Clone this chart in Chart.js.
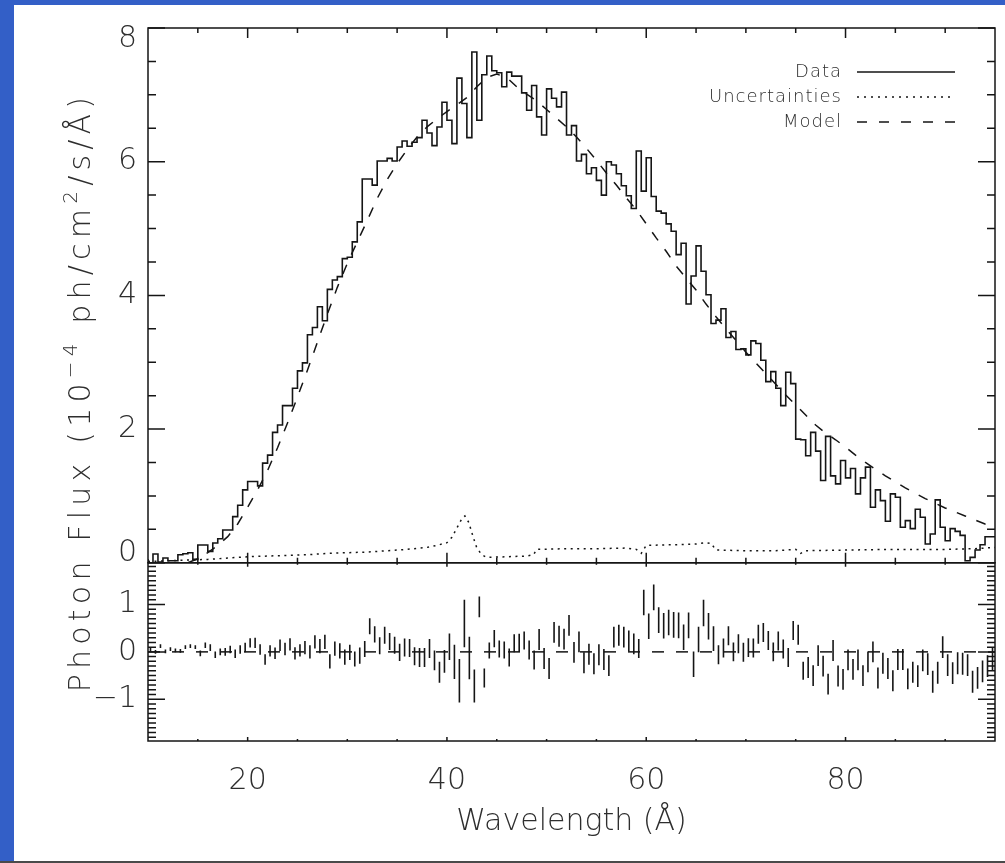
<!DOCTYPE html>
<html>
<head>
<meta charset="utf-8">
<title>Photon flux spectrum</title>
<script src="https://cdn.jsdelivr.net/npm/chart.js@4.4.1/dist/chart.umd.min.js"></script>
<style>
  html, body { margin: 0; padding: 0; background: #fff; }
  body { width: 1005px; height: 863px; position: relative; overflow: hidden; }
  .edge-left { position: absolute; left: 0; top: 0; width: 14px; height: 863px; background: #335fc7; }
  .edge-top { position: absolute; left: 0; top: 0; width: 1005px; height: 5px; background: #335fc7; }
  .edge-bottom { position: absolute; left: 0; top: 861px; width: 1005px; height: 2px; background: #4a4a4a; }
  #wrap { position: absolute; left: 0; top: 0; width: 1005px; height: 863px; }
</style>
</head>
<body>
<div class="edge-left"></div>
<div class="edge-top"></div>
<div class="edge-bottom"></div>
<div id="wrap"><canvas id="spec" width="1005" height="863"></canvas></div>
<script>
// histogram bins: 0.5 A wide, starting at 10 A
const binStart = 10;
const binWidth = 0.5;

// measured flux per bin (10^-4 ph/cm2/s/A), 10 bins per row = 5 A
const flux = [
  0.055, 0.00, 0.13, 0.01, 0.07, 0.03, 0.03, 0.12, 0.135, 0.15,
  0.05, 0.265, 0.265, 0.17, 0.295, 0.36, 0.49, 0.49, 0.69, 0.86,
  1.09, 1.215, 1.215, 1.15, 1.49, 1.61, 1.95, 2.06, 2.35, 2.35,
  2.61, 2.87, 2.99, 3.41, 3.52, 3.83, 3.62, 4.09, 4.23, 4.28,
  4.55, 4.57, 4.80, 5.10, 5.74, 5.74, 5.65, 6.01, 6.01, 6.05,
  6.01, 6.22, 6.31, 6.23, 6.29, 6.36, 6.62, 6.43, 6.24, 6.52,
  6.89, 6.62, 6.27, 7.25, 6.87, 6.36, 7.64, 6.62, 7.30, 7.58,
  7.36, 7.33, 7.12, 7.34, 7.28, 7.28, 7.03, 6.77, 7.14, 6.67,
  6.40, 7.09, 6.95, 6.82, 7.04, 6.40, 6.54, 6.01, 6.11, 5.82,
  5.91, 5.72, 5.50, 6.00, 5.95, 5.82, 5.64, 5.49, 5.30, 6.16,
  5.56, 6.06, 5.48, 5.26, 5.23, 5.07, 4.96, 4.61, 4.78, 3.87,
  4.29, 4.74, 4.36, 4.01, 3.58, 3.63, 3.80, 3.37, 3.46, 3.19,
  3.20, 3.11, 3.32, 3.28, 3.03, 2.71, 2.86, 2.61, 2.35, 2.85,
  2.68, 1.85, 1.84, 1.60, 1.95, 1.67, 1.23, 1.89, 1.30, 1.18,
  1.53, 1.27, 1.41, 1.03, 1.27, 1.43, 0.83, 1.09, 0.93, 0.62,
  1.03, 0.98, 0.53, 0.63, 0.51, 0.80, 0.68, 0.28, 0.43, 0.94,
  0.53, 0.33, 0.51, 0.47, 0.41, 0.03, 0.08, 0.19, 0.27, 0.39
];

// model curve
const modelWave = [
  14, 15, 16, 17, 18, 19, 20, 21, 22, 23, 24, 25, 26, 27, 28, 29, 30, 31, 32, 33,
  34, 35, 36, 37, 38, 39, 40, 41, 42, 43, 44, 45, 46, 47, 48, 49, 50, 51, 52, 53,
  54, 55, 56, 57, 58, 59, 60, 61, 62, 63, 64, 65, 66, 67, 68, 69, 70, 71, 72, 73,
  74, 75, 76, 77, 78, 79, 80, 81, 82, 83, 84, 85, 86, 87, 88, 89, 90, 91, 92, 93,
  94, 95
];
const modelFlux = [
  0.00, 0.06, 0.15, 0.26, 0.39, 0.58, 0.83, 1.09, 1.38, 1.72, 2.09, 2.48, 2.88, 3.30, 3.72, 4.12, 4.48, 4.80, 5.12, 5.45,
  5.73, 5.97, 6.18, 6.37, 6.52, 6.64, 6.75, 6.85, 6.96, 7.12, 7.26, 7.31, 7.26, 7.12, 7.01, 6.91, 6.78, 6.65, 6.52, 6.37,
  6.20, 6.02, 5.83, 5.65, 5.46, 5.28, 5.07, 4.86, 4.66, 4.44, 4.26, 4.08, 3.87, 3.68, 3.50, 3.33, 3.15, 2.99, 2.83, 2.67,
  2.51, 2.36, 2.21, 2.06, 1.94, 1.84, 1.73, 1.61, 1.50, 1.40, 1.30, 1.21, 1.12, 1.04, 0.96, 0.89, 0.82, 0.76, 0.70, 0.64,
  0.58, 0.53
];

// uncertainty curve
const uncWave = [
  10, 12, 14, 16, 18, 20, 22, 24, 26, 28,
  30, 32, 34, 36, 38, 39, 40, 40.5, 41, 41.5,
  41.8, 42.2, 42.6, 43, 43.5, 44, 46, 48, 48.7, 49,
  52, 55, 58, 59, 59.5, 60, 63, 65, 66, 66.5,
  67, 70, 73, 75, 75.5, 76, 80, 85, 90, 93,
  95
];
const uncFlux = [
  0.02, 0.03, 0.04, 0.05, 0.07, 0.09, 0.10, 0.11, 0.12, 0.14,
  0.15, 0.16, 0.18, 0.20, 0.23, 0.26, 0.30, 0.38, 0.52, 0.66,
  0.70, 0.60, 0.40, 0.22, 0.12, 0.08, 0.09, 0.10, 0.12, 0.20,
  0.21, 0.21, 0.22, 0.20, 0.14, 0.26, 0.27, 0.28, 0.30, 0.29,
  0.19, 0.18, 0.18, 0.20, 0.14, 0.18, 0.19, 0.20, 0.20, 0.21,
  0.23
];

// residuals per bin, and their error bar half-lengths
const resid = [
  0.05, 0.00, 0.12, 0.01, 0.06, 0.03, 0.02, 0.10, 0.12, 0.10,
  -0.03, 0.14, 0.09, -0.06, 0.00, 0.00, 0.05, -0.04, 0.05, 0.09,
  0.19, 0.19, 0.05, -0.16, 0.02, -0.03, 0.14, 0.06, 0.16, -0.03,
  0.03, 0.09, 0.00, 0.21, 0.12, 0.21, -0.20, 0.07, 0.02, -0.11,
  -0.01, -0.15, -0.08, 0.06, 0.54, 0.37, 0.13, 0.35, 0.22, 0.14,
  -0.01, 0.09, 0.08, -0.09, -0.12, -0.12, 0.07, -0.18, -0.43, -0.20,
  0.11, -0.21, -0.61, 0.60, -0.13, -0.72, 0.95, -0.55, 0.03, 0.28,
  0.06, 0.04, -0.12, 0.18, 0.19, 0.24, 0.04, -0.17, 0.26, -0.14,
  -0.35, 0.41, 0.33, 0.27, 0.56, -0.01, 0.21, -0.23, -0.05, -0.25,
  -0.06, -0.16, -0.29, 0.31, 0.35, 0.31, 0.23, 0.17, 0.07, 1.04,
  0.54, 1.15, 0.67, 0.55, 0.62, 0.57, 0.56, 0.31, 0.56, -0.26,
  0.26, 0.82, 0.54, 0.28, -0.06, 0.08, 0.34, 0.00, 0.17, -0.01,
  0.09, 0.08, 0.37, 0.41, 0.24, 0.00, 0.23, 0.06, -0.12, 0.45,
  0.36, -0.40, -0.33, -0.50, -0.08, -0.30, -0.68, 0.03, -0.51, -0.58,
  -0.17, -0.37, -0.17, -0.50, -0.21, 0.00, -0.55, -0.24, -0.35, -0.61,
  -0.16, -0.16, -0.57, -0.43, -0.51, -0.18, -0.26, -0.63, -0.44, 0.10,
  -0.28, -0.45, -0.24, -0.25, -0.28, -0.63, -0.55, -0.41, -0.30, -0.15
];
const residErr = [
  0.04, 0.04, 0.04, 0.04, 0.04, 0.04, 0.04, 0.04, 0.04, 0.04,
  0.06, 0.06, 0.07, 0.07, 0.07, 0.08, 0.08, 0.09, 0.09, 0.10,
  0.10, 0.11, 0.11, 0.11, 0.12, 0.12, 0.12, 0.13, 0.13, 0.13,
  0.13, 0.14, 0.14, 0.14, 0.15, 0.15, 0.15, 0.15, 0.16, 0.16,
  0.16, 0.16, 0.17, 0.17, 0.17, 0.17, 0.18, 0.18, 0.18, 0.18,
  0.18, 0.19, 0.19, 0.19, 0.20, 0.20, 0.20, 0.21, 0.22, 0.24,
  0.28, 0.36, 0.46, 0.50, 0.45, 0.35, 0.22, 0.20, 0.17, 0.18,
  0.18, 0.18, 0.19, 0.19, 0.19, 0.19, 0.20, 0.20, 0.22, 0.22,
  0.22, 0.22, 0.22, 0.22, 0.22, 0.22, 0.22, 0.22, 0.22, 0.22,
  0.22, 0.22, 0.22, 0.22, 0.22, 0.22, 0.22, 0.22, 0.20, 0.27,
  0.27, 0.27, 0.27, 0.27, 0.27, 0.27, 0.27, 0.27, 0.27, 0.27,
  0.27, 0.28, 0.28, 0.26, 0.20, 0.20, 0.20, 0.20, 0.20, 0.20,
  0.20, 0.20, 0.20, 0.20, 0.20, 0.20, 0.20, 0.20, 0.20, 0.20,
  0.21, 0.19, 0.22, 0.22, 0.22, 0.22, 0.22, 0.22, 0.22, 0.22,
  0.22, 0.22, 0.22, 0.22, 0.22, 0.22, 0.22, 0.22, 0.22, 0.22,
  0.22, 0.22, 0.22, 0.22, 0.23, 0.23, 0.23, 0.23, 0.23, 0.23,
  0.23, 0.23, 0.23, 0.23, 0.23, 0.23, 0.23, 0.23, 0.23, 0.23
];

// axis ticks
const xTicks = [20, 40, 60, 80];
const fluxTicks = [0, 2, 4, 6, 8];
const residTicks = [-1, 0, 1];

const FAM = "'DejaVu Sans', 'Liberation Sans', sans-serif";
const WEIGHT = '200';
const INK = '#151515';
const TEXT = '#2e2e2e';

// step line: one point per bin edge, plus the closing edge
const dataPts = flux.map((v, i) => ({ x: binStart + i * binWidth, y: v }));
dataPts.push({ x: binStart + flux.length * binWidth, y: flux[flux.length - 1] });

const modelPts = modelWave.map((w, i) => ({ x: w, y: modelFlux[i] }));
const uncPts = uncWave.map((w, i) => ({ x: w, y: uncFlux[i] }));

// error bars as short vertical segments separated by gaps
const barPts = [];
resid.forEach((r, i) => {
  const xc = binStart + (i + 0.5) * binWidth;
  barPts.push({ x: xc, y: r - residErr[i] });
  barPts.push({ x: xc, y: r + residErr[i] });
  barPts.push({ x: xc, y: null });
});
const zeroPts = [{ x: binStart, y: 0 }, { x: binStart + flux.length * binWidth, y: 0 }];

function fmtTick(v) {
  return v < 0 ? '\u2212' + Math.abs(v) : String(v);
}

// frame, inward ticks on all sides, y labels, legend and y title
const frameTicks = {
  id: 'frameTicks',
  afterDraw(chart) {
    const { ctx } = chart;
    const x = chart.scales.x, yF = chart.scales.yFlux, yR = chart.scales.yRes;
    const L = x.left, R = x.right;
    ctx.save();
    ctx.strokeStyle = INK;
    ctx.lineWidth = 1.5;
    ctx.setLineDash([]);
    ctx.strokeRect(L, yF.top, R - L, yF.bottom - yF.top);
    ctx.strokeRect(L, yR.top, R - L, yR.bottom - yR.top);

    ctx.beginPath();
    // y ticks, top panel: minor every 0.5
    for (let k = 0; k <= 16; k++) {
      const v = k * 0.5;
      const py = yF.getPixelForValue(v);
      const len = fluxTicks.includes(v) ? 17 : 8;
      ctx.moveTo(L, py); ctx.lineTo(L + len, py);
      ctx.moveTo(R, py); ctx.lineTo(R - len, py);
    }
    // y ticks, bottom panel: minor every 0.1
    for (let k = -18; k <= 18; k++) {
      const v = k / 10;
      const py = yR.getPixelForValue(v);
      const len = (k % 10 === 0) ? 17 : 8;
      ctx.moveTo(L, py); ctx.lineTo(L + len, py);
      ctx.moveTo(R, py); ctx.lineTo(R - len, py);
    }
    // x ticks, minor every 5
    for (let w = 15; w < 95; w += 5) {
      const px = x.getPixelForValue(w);
      const major = xTicks.includes(w);
      const a = major ? 10 : 5, b = major ? 4 : 2;
      ctx.moveTo(px, yF.top); ctx.lineTo(px, yF.top + a);
      ctx.moveTo(px, yF.bottom); ctx.lineTo(px, yF.bottom - a);
      ctx.moveTo(px, yR.top); ctx.lineTo(px, yR.top + b);
      ctx.moveTo(px, yR.bottom); ctx.lineTo(px, yR.bottom - b);
    }
    ctx.stroke();

    // y tick labels; the end labels of the top panel sit just inside it
    ctx.font = `${WEIGHT} 30px ${FAM}`;
    ctx.fillStyle = TEXT;
    ctx.textAlign = 'right';
    ctx.textBaseline = 'middle';
    fluxTicks.forEach(v => {
      let py = yF.getPixelForValue(v);
      if (v === fluxTicks[fluxTicks.length - 1]) py += 11;
      if (v === fluxTicks[0]) py -= 10;
      ctx.fillText(fmtTick(v), L - 11, py);
    });
    residTicks.forEach(v => {
      ctx.fillText(fmtTick(v), L - 11, yR.getPixelForValue(v));
    });

    // legend
    const items = [
      { text: 'Data', dash: [], y: 72 },
      { text: 'Uncertainties', dash: [2, 5], y: 97 },
      { text: 'Model', dash: [10, 12], y: 122 }
    ];
    ctx.font = `${WEIGHT} 18px ${FAM}`;
    ctx.letterSpacing = '1px';
    items.forEach(it => {
      ctx.fillText(it.text, 842, it.y);
      ctx.beginPath();
      ctx.setLineDash(it.dash);
      ctx.moveTo(857, it.y);
      ctx.lineTo(955, it.y);
      ctx.stroke();
    });
    ctx.setLineDash([]);

    // rotated y title with superscripts
    const parts = [
      { t: 'Photon Flux (10', size: 30, dy: 0 },
      { t: '\u22124', size: 20, dy: -13 },
      { t: ' ph/cm', size: 30, dy: 0 },
      { t: '2', size: 20, dy: -13 },
      { t: '/s/\u00c5)', size: 30, dy: 0 }
    ];
    ctx.letterSpacing = '5.2px';
    let total = 0;
    parts.forEach(p => {
      ctx.font = `${WEIGHT} ${p.size}px ${FAM}`;
      p.w = ctx.measureText(p.t).width;
      total += p.w;
    });
    ctx.translate(90, 392);
    ctx.rotate(-Math.PI / 2);
    ctx.textAlign = 'left';
    ctx.textBaseline = 'alphabetic';
    let tx = -total / 2;
    parts.forEach(p => {
      ctx.font = `${WEIGHT} ${p.size}px ${FAM}`;
      ctx.fillText(p.t, tx, p.dy);
      tx += p.w;
    });
    ctx.restore();
  }
};

const tickFont = { family: FAM, size: 30, weight: WEIGHT };

const ctx = document.getElementById('spec').getContext('2d');
const specChart = new Chart(ctx, {
  type: 'line',
  data: {
    datasets: [
      { label: 'Data', data: dataPts, yAxisID: 'yFlux', stepped: 'after',
        borderColor: INK, borderWidth: 1.6, pointRadius: 0, fill: false },
      { label: 'Uncertainties', data: uncPts, yAxisID: 'yFlux',
        borderColor: INK, borderWidth: 1.5, borderDash: [2, 4.5], pointRadius: 0, fill: false },
      { label: 'Model', data: modelPts, yAxisID: 'yFlux',
        borderColor: INK, borderWidth: 1.5, borderDash: [10, 11], pointRadius: 0, fill: false },
      { label: 'Residuals', data: barPts, yAxisID: 'yRes', spanGaps: false,
        borderColor: INK, borderWidth: 1.6, pointRadius: 0, fill: false },
      { label: 'Zero', data: zeroPts, yAxisID: 'yRes',
        borderColor: INK, borderWidth: 1.5, borderDash: [12, 12], pointRadius: 0, fill: false }
    ]
  },
  options: {
    responsive: false,
    animation: false,
    layout: { padding: { left: 0, top: 28, right: 10, bottom: 0 } },
    plugins: {
      legend: { display: false },
      tooltip: { enabled: false }
    },
    scales: {
      x: {
        type: 'linear',
        min: 10,
        max: 95,
        offset: false,
        grid: { display: false, drawTicks: false },
        border: { display: false },
        afterBuildTicks: s => { s.ticks = xTicks.map(v => ({ value: v })); },
        afterFit: s => { s.height = 122; },
        ticks: { font: tickFont, color: TEXT, padding: 22, maxRotation: 0, autoSkip: false },
        title: {
          display: true,
          text: 'Wavelength (\u00c5)',
          font: { family: FAM, size: 30, weight: WEIGHT },
          color: TEXT,
          padding: { top: 0, bottom: 23 }
        }
      },
      yRes: {
        type: 'linear',
        position: 'left',
        stack: 'panels',
        stackWeight: 1,
        weight: 1,
        min: -1.88,
        max: 1.88,
        grid: { display: false, drawTicks: false },
        border: { display: false },
        afterBuildTicks: s => { s.ticks = residTicks.map(v => ({ value: v })); },
        afterFit: s => { s.width = 148; },
        ticks: { display: false }
      },
      yFlux: {
        type: 'linear',
        position: 'left',
        stack: 'panels',
        stackWeight: 3,
        weight: 2,
        min: 0,
        max: 8,
        grid: { display: false, drawTicks: false },
        border: { display: false },
        afterBuildTicks: s => { s.ticks = fluxTicks.map(v => ({ value: v })); },
        afterFit: s => { s.width = 148; },
        ticks: { display: false }
      }
    }
  },
  plugins: [frameTicks]
});
</script>
</body>
</html>
